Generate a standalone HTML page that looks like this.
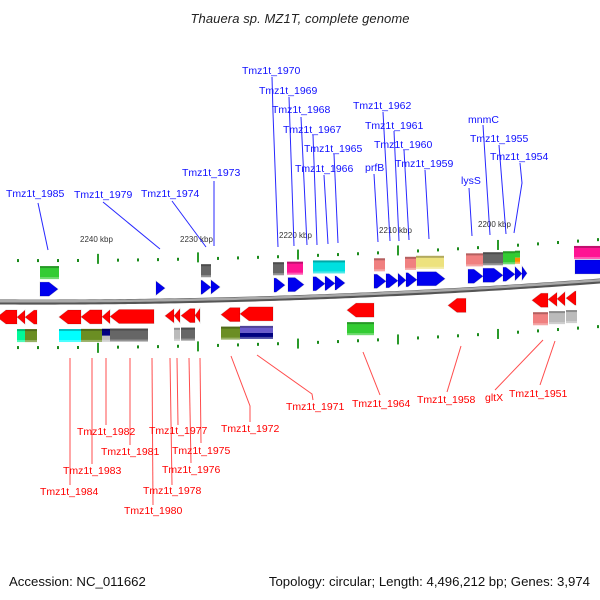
<!DOCTYPE html>
<html><head><meta charset="utf-8"><style>
html,body{margin:0;padding:0;background:#fff;}
svg{display:block;font-family:"Liberation Sans",sans-serif;}
</style></head><body>
<svg id="s" width="600" height="600" viewBox="0 0 600 600" xmlns="http://www.w3.org/2000/svg">
<text x="300" y="23" font-size="13" font-style="italic" text-anchor="middle" fill="#222" textLength="219">Thauera sp. MZ1T, complete genome</text>
<text x="9" y="586" font-size="13.2" fill="#111">Accession: NC_011662</text>
<text x="590" y="586" font-size="13.2" fill="#111" text-anchor="end">Topology: circular; Length: 4,496,212 bp; Genes: 3,974</text>
<g id="g"></g>
</svg>
<script>
var NS="http://www.w3.org/2000/svg",g=document.getElementById('g');
function B(x){return 302+0.005*x-0.0000667*x*x;}
function el(t,a,txt){var e=document.createElementNS(NS,t);for(var k in a)e.setAttribute(k,a[k]);if(txt)e.textContent=txt;g.appendChild(e);return e;}
var d="M-5,"+B(-5);for(var x=0;x<=605;x+=5)d+=" L"+x+","+B(x).toFixed(2);
el('path',{d:d,fill:'none',stroke:'#555',"stroke-width":5});
el('path',{d:d,fill:'none',stroke:'#aaa',"stroke-width":2.5,transform:'translate(0,-0.8)'});
for(var x=18;x<600;x+=20){
 var maj=[98,198,298,398,498].indexOf(x)>=0;
 var yt=B(x)-42, yb=B(x)+45;
 if(maj){el('rect',{x:x-1,y:yt-6,width:2,height:10,fill:'#2a9a2a'});el('rect',{x:x-1,y:yb-4,width:2,height:10,fill:'#2a9a2a'});}
 else{el('rect',{x:x-1,y:yt-1,width:2,height:3,fill:'#1a8a1a'});el('rect',{x:x-1,y:yb-1,width:2,height:3,fill:'#1a8a1a'});}
}
[[80,242,"2240 kbp"],[180,242,"2230 kbp"],[279,238,"2220 kbp"],[379,233,"2210 kbp"],[478,227,"2200 kbp"]].forEach(function(k){el('text',{x:k[0],y:k[1],"font-size":8,fill:'#333'},k[2]);});
function box(a,b,c,off,c2){var y=B((a+b)/2)+off;
 if(c2){el('rect',{x:a,y:y,width:b-a,height:7,fill:c});el('rect',{x:a,y:y+7,width:b-a,height:6,fill:c2});}
 else el('rect',{x:a,y:y,width:b-a,height:13,fill:c});
 el('rect',{x:a,y:y,width:b-a,height:2,fill:'#000',opacity:0.25});
 el('rect',{x:a,y:y+11,width:b-a,height:2,fill:'#fff',opacity:0.3});}
[[40,59,'#33cc33'],[201,211,'#666'],[273,284,'#666'],[287,303,'#ff1493'],[313,345,'#00e0e0'],[374,385,'#f08080'],[405,416,'#f08080'],[416,444,'#ede27e'],[466,483,'#f08080'],[483,503,'#666'],[503,515,'#33cc33'],[515,520,'#33cc33','#ff8c00'],[574,600,'#ff1493']].forEach(function(b){box(b[0],b[1],b[2],-36,b[3]);});
[[17,25,'#00fa9a'],[25,37,'#6b8e23'],[59,81,'#00ffff'],[81,102,'#6b8e23'],[102,110,'#000080','#c0c0c0'],[110,148,'#666'],[174,180,'#bbb'],[181,195,'#666'],[221,240,'#6b8e23'],[240,273,'#6a5acd','#000080'],[347,374,'#33cc33'],[533,548,'#f08080'],[549,565,'#bbb'],[566,577,'#bbb']].forEach(function(b){box(b[0],b[1],b[2],27,b[3]);});
function arr(a,b,dir,off,c,nohead){var y=B((a+b)/2)+off,h=14,hl=nohead?0:Math.min(9,b-a),p;
 if(dir>0)p=[[a,y],[b-hl,y],[b,y+h/2],[b-hl,y+h],[a,y+h]];
 else p=[[b,y],[a+hl,y],[a,y+h/2],[a+hl,y+h],[b,y+h]];
 el('polygon',{points:p.map(function(q){return q.join(',')}).join(' '),fill:c});
 el('polygon',{points:p.map(function(q){return q.join(',')}).join(' '),fill:'none',stroke:'#000',"stroke-opacity":0.12,"stroke-width":1});}
[[40,58],[156,165],[201,211],[211,220],[274,285],[288,304],[313,325],[325,335],[335,345],[374,386],[386,398],[398,406],[406,417],[417,445],[468,483],[483,503],[503,515],[515,522],[522,527]].forEach(function(a){arr(a[0],a[1],1,-20,'#0000ee');});
arr(575,601,1,-22,'#0000ee',true);
[[-3,17],[17,25],[25,37],[59,81],[81,102],[102,110],[110,154],[165,174],[174,180],[181,195],[195,200],[221,240],[240,273],[347,374],[448,466],[532,548],[548,557],[557,565],[566,576]].forEach(function(a){arr(a[0],a[1],-1,8,'#ff0000');});
function lab(t,x,y,pts,c){el('text',{x:x,y:y,"font-size":10.5,fill:c},t);
 el('polyline',{points:pts,fill:'none',stroke:c,"stroke-width":1,"stroke-opacity":c=='#ff0000'?0.7:0.9});}
var BL='#1010ff',RD='#ff0000';
[["Tmz1t_1985",6,197,"38,203 48,250"],["Tmz1t_1979",74,198,"103,202 160,249"],["Tmz1t_1974",141,197,"172,201 206,247"],["Tmz1t_1973",182,176,"214,181 214,246"],
["Tmz1t_1970",242,74,"272,77 273,113 278,247"],["Tmz1t_1969",259,94,"289,97 294,246"],["Tmz1t_1968",272,113,"301,117 307,245"],["Tmz1t_1967",283,133,"313,135 317,245"],["Tmz1t_1965",304,152,"334,154 338,243"],["Tmz1t_1966",295,172,"324,175 328,244"],
["Tmz1t_1962",353,109,"383,112 390,241"],["Tmz1t_1961",365,129,"394,131 399,241"],["Tmz1t_1960",374,148,"404,150 409,240"],["Tmz1t_1959",395,167,"425,170 429,239"],["prfB",365,171,"374,174 378,242"],
["mnmC",468,123,"483,125 490,235"],["Tmz1t_1955",470,142,"499,145 506,234"],["Tmz1t_1954",490,160,"520,163 522,183 514,233"],["lysS",461,184,"469,188 472,236"]].forEach(function(l){lab(l[0],l[1],l[2],l[3],BL);});
[["Tmz1t_1984",40,495,"70,358 70,485"],["Tmz1t_1983",63,474,"92,358 92,464"],["Tmz1t_1982",77,435,"106,358 106,425"],["Tmz1t_1981",101,455,"130,358 130,445"],["Tmz1t_1980",124,514,"152,358 153,505"],["Tmz1t_1978",143,494,"170,358 172,485"],["Tmz1t_1977",149,434,"177,358 178,425"],["Tmz1t_1976",162,473,"189,358 191,463"],["Tmz1t_1975",172,454,"200,358 201,443"],["Tmz1t_1972",221,432,"231,356 250,406 250,422"],["Tmz1t_1971",286,410,"257,355 312,394 313,400"],["Tmz1t_1964",352,407,"363,352 380,395"],["Tmz1t_1958",417,403,"461,346 447,392"],["gltX",485,401,"543,340 495,390"],["Tmz1t_1951",509,397,"555,341 540,385"]].forEach(function(l){lab(l[0],l[1],l[2],l[3],RD);});
</script>
</body></html>
